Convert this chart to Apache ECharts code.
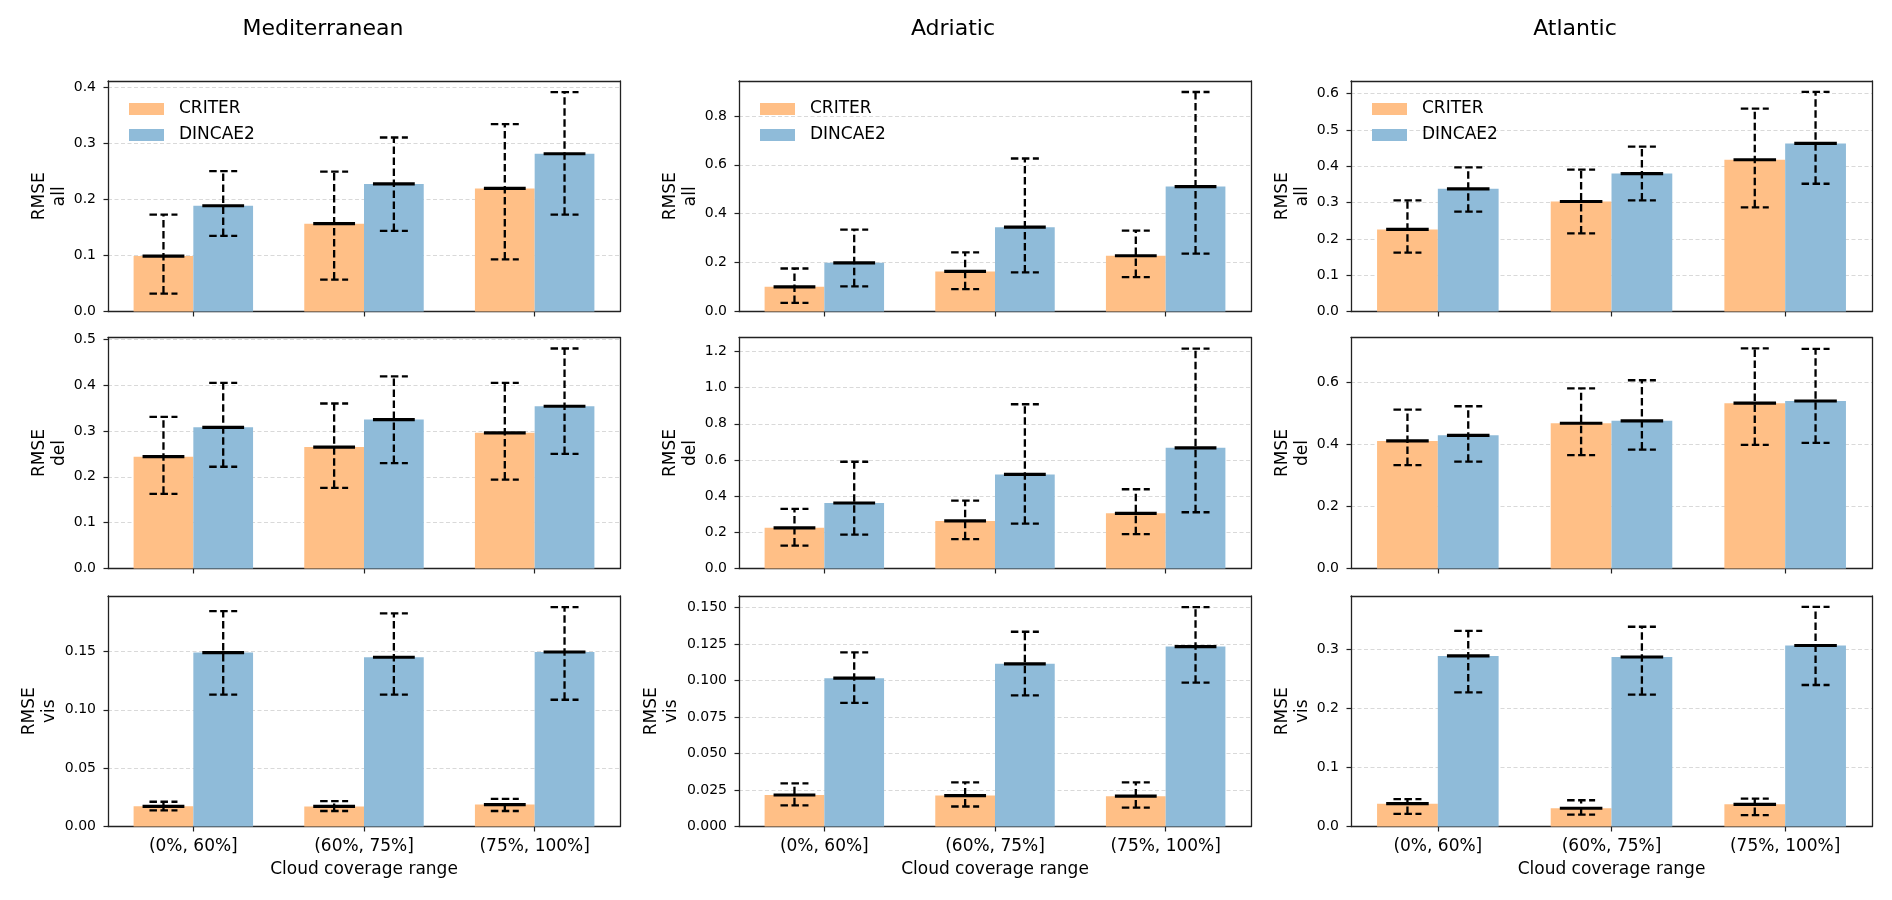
<!DOCTYPE html>
<html>
<head>
<meta charset="utf-8">
<script src="https://cdn.jsdelivr.net/npm/echarts@6/dist/echarts.min.js"></script>
<style>
html,body{margin:0;padding:0;background:#fff;}
#chart{width:1892px;height:900px;}
</style>
</head>
<body>
<div id="chart"></div>
<script>
// ---------------- data ----------------
const categories = ['(0%, 60%]', '(60%, 75%]', '(75%, 100%]'];
const regions = ['Mediterranean', 'Adriatic', 'Atlantic'];
const metrics = ['all', 'del', 'vis'];
const seriesNames = ['CRITER', 'DINCAE2'];

// each entry: [low, mean, high] per category
const medAllCRITER  = [[0.032, 0.099, 0.173], [0.057, 0.157, 0.250], [0.093, 0.220, 0.335]];
const medAllDINCAE2 = [[0.135, 0.189, 0.251], [0.144, 0.228, 0.311], [0.173, 0.282, 0.392]];
const medDelCRITER  = [[0.163, 0.244, 0.331], [0.176, 0.265, 0.360], [0.194, 0.296, 0.405]];
const medDelDINCAE2 = [[0.222, 0.308, 0.405], [0.230, 0.325, 0.419], [0.250, 0.354, 0.480]];
const medVisCRITER  = [[0.0138, 0.0173, 0.0212], [0.0133, 0.0172, 0.0217], [0.0133, 0.0188, 0.0237]];
const medVisDINCAE2 = [[0.113, 0.149, 0.1846], [0.113, 0.145, 0.1826], [0.1086, 0.1495, 0.188]];

const adrAllCRITER  = [[0.035, 0.101, 0.176], [0.0915, 0.164, 0.242], [0.141, 0.228, 0.331]];
const adrAllDINCAE2 = [[0.103, 0.199, 0.335], [0.160, 0.345, 0.626], [0.237, 0.511, 0.898]];
const adrDelCRITER  = [[0.127, 0.225, 0.330], [0.162, 0.263, 0.375], [0.190, 0.305, 0.438]];
const adrDelDINCAE2 = [[0.187, 0.362, 0.590], [0.248, 0.520, 0.908], [0.311, 0.667, 1.216]];
const adrVisCRITER  = [[0.0145, 0.0216, 0.0295], [0.0137, 0.0212, 0.0302], [0.0130, 0.0208, 0.0302]];
const adrVisDINCAE2 = [[0.0848, 0.1017, 0.1194], [0.0899, 0.1115, 0.1335], [0.0986, 0.1233, 0.1504]];

const atlAllCRITER  = [[0.162, 0.226, 0.306], [0.215, 0.303, 0.391], [0.287, 0.418, 0.559]];
const atlAllDINCAE2 = [[0.275, 0.338, 0.397], [0.306, 0.380, 0.454], [0.352, 0.463, 0.605]];
const atlDelCRITER  = [[0.334, 0.412, 0.513], [0.366, 0.469, 0.582], [0.399, 0.534, 0.711]];
const atlDelDINCAE2 = [[0.345, 0.430, 0.524], [0.384, 0.477, 0.608], [0.406, 0.541, 0.709]];
const atlVisCRITER  = [[0.0213, 0.0387, 0.0465], [0.0203, 0.0310, 0.0445], [0.0194, 0.0377, 0.0474]];
const atlVisDINCAE2 = [[0.2275, 0.2894, 0.332], [0.2236, 0.2875, 0.3388], [0.240, 0.307, 0.3727]];

// y tick labels per panel
const medAllTicks = ['0.0', '0.1', '0.2', '0.3', '0.4'];
const medDelTicks = ['0.0', '0.1', '0.2', '0.3', '0.4', '0.5'];
const medVisTicks = ['0.00', '0.05', '0.10', '0.15'];
const adrAllTicks = ['0.0', '0.2', '0.4', '0.6', '0.8'];
const adrDelTicks = ['0.0', '0.2', '0.4', '0.6', '0.8', '1.0', '1.2'];
const adrVisTicks = ['0.000', '0.025', '0.050', '0.075', '0.100', '0.125', '0.150'];
const atlAllTicks = ['0.0', '0.1', '0.2', '0.3', '0.4', '0.5', '0.6'];
const atlDelTicks = ['0.0', '0.2', '0.4', '0.6'];
const atlVisTicks = ['0.0', '0.1', '0.2', '0.3'];

// y axis upper limits
const medYMax = [0.412, 0.504, 0.1975];
const adrYMax = [0.943, 1.277, 0.158];
const atlYMax = [0.635, 0.746, 0.391];

// ---------------- assembly ----------------
const panelData = [
  [[medAllCRITER, medAllDINCAE2], [medDelCRITER, medDelDINCAE2], [medVisCRITER, medVisDINCAE2]],
  [[adrAllCRITER, adrAllDINCAE2], [adrDelCRITER, adrDelDINCAE2], [adrVisCRITER, adrVisDINCAE2]],
  [[atlAllCRITER, atlAllDINCAE2], [atlDelCRITER, atlDelDINCAE2], [atlVisCRITER, atlVisDINCAE2]]
];
const panelTicks = [
  [medAllTicks, medDelTicks, medVisTicks],
  [adrAllTicks, adrDelTicks, adrVisTicks],
  [atlAllTicks, atlDelTicks, atlVisTicks]
];
const panelMax = [medYMax, adrYMax, atlYMax];

// layout (style)
const colLeft = [108, 739, 1351];
const colWidth = [512, 512, 521];
const rowTop = [81, 337.5, 596];
const rowHeight = [230.5, 231, 230.5];
const titleX = [318, 948, 1570];
const FONT = 'DejaVu Sans';
const colors = ['#FFBF86', '#8FBBD9'];
const frameColor = '#222';

const grids = [], xAxes = [], yAxes = [], series = [], legends = [], titles = [];
const frameX = [], frameY = [];

function errRender(side) {
  return function (params, api) {
    const ci = api.value(0);
    const lo = api.value(1), mu = api.value(2), hi = api.value(3);
    const band = api.size([1, 0])[0];
    const bw = band * 0.35;
    const pL = api.coord([ci, lo]);
    const pM = api.coord([ci, mu]);
    const pH = api.coord([ci, hi]);
    const cx = pL[0] + side * bw / 2;
    const capHalf = 14;
    const meanHalf = bw * 0.35;
    const dash = { stroke: '#000', lineWidth: 2.3, lineDash: [7.5, 3.5], fill: null };
    return {
      type: 'group',
      children: [
        { type: 'line', shape: { x1: cx, y1: pL[1], x2: cx, y2: pH[1] }, style: dash },
        { type: 'line', shape: { x1: cx - capHalf, y1: pL[1], x2: cx + capHalf, y2: pL[1] }, style: dash },
        { type: 'line', shape: { x1: cx - capHalf, y1: pH[1], x2: cx + capHalf, y2: pH[1] }, style: dash },
        { type: 'line', shape: { x1: cx - meanHalf, y1: pM[1], x2: cx + meanHalf, y2: pM[1] }, style: { stroke: '#000', lineWidth: 3.2 } }
      ]
    };
  };
}

for (let c = 0; c < 3; c++) {
  titles.push({
    text: regions[c], left: titleX[c], top: 13, textAlign: 'center',
    textStyle: { fontFamily: FONT, fontSize: 22, fontWeight: 'normal', color: '#000' }
  });
  for (let r = 0; r < 3; r++) {
    const g = grids.length;
    grids.push({ left: colLeft[c], top: rowTop[r], width: colWidth[c], height: rowHeight[r], show: false });
    const ticks = panelTicks[c][r];
    const tickVals = ticks.map(Number);
    const interval = tickVals[1] - tickVals[0];
    const labelText = ticks.map(t => t);
    const lastRow = r === 2;
    const labW = ticks[ticks.length - 1].length;
    const nameGap = labW <= 3 ? 38 : (labW === 4 ? 48 : 57);

    xAxes.push({
      type: 'category', gridIndex: g, data: categories, boundaryGap: true,
      axisLine: { show: true, lineStyle: { color: frameColor, width: 1.3 } },
      axisTick: { show: true, alignWithLabel: true, length: 5, lineStyle: { color: frameColor, width: 1.2 } },
      axisLabel: { show: lastRow, fontFamily: FONT, fontSize: 17, color: '#000', margin: 12 },
      splitLine: { show: false },
      name: lastRow ? 'Cloud coverage range' : '',
      nameLocation: 'middle', nameGap: 35,
      nameTextStyle: { fontFamily: FONT, fontSize: 17, color: '#000' }
    });
    yAxes.push({
      type: 'value', gridIndex: g, min: 0, max: panelMax[c][r], interval: interval,
      axisLine: { show: true, lineStyle: { color: frameColor, width: 1.3 } },
      axisTick: { show: true, length: 4.5, inside: false, customValues: tickVals, lineStyle: { color: frameColor, width: 1.2 } },
      axisLabel: {
        fontFamily: FONT, fontSize: 14, color: '#000', margin: 12, customValues: tickVals,
        formatter: function (v) {
          for (let i = 0; i < tickVals.length; i++) {
            if (Math.abs(v - tickVals[i]) < interval * 1e-3) return labelText[i];
          }
          return '';
        }
      },
      splitLine: { show: true, lineStyle: { color: '#d9d9d9', width: 1, type: [4, 2.5] } },
      name: 'RMSE\n' + metrics[r], nameLocation: 'middle', nameRotate: 90, nameGap: nameGap,
      nameTextStyle: { fontFamily: FONT, fontSize: 17, color: '#000', lineHeight: 20 }
    });
    frameX.push({
      type: 'value', gridIndex: g, position: 'top', min: 0, max: 1,
      axisLine: { show: true, onZero: false, lineStyle: { color: frameColor, width: 1.3 } },
      axisTick: { show: false }, axisLabel: { show: false }, splitLine: { show: false }
    });
    frameY.push({
      type: 'value', gridIndex: g, position: 'right', min: 0, max: 1,
      axisLine: { show: true, onZero: false, lineStyle: { color: frameColor, width: 1.3 } },
      axisTick: { show: false }, axisLabel: { show: false }, splitLine: { show: false }
    });

    const pair = panelData[c][r];
    for (let s = 0; s < 2; s++) {
      series.push({
        name: seriesNames[s], type: 'bar', xAxisIndex: g, yAxisIndex: g,
        data: pair[s].map(d => d[1]),
        barWidth: '35%', barGap: '0%',
        itemStyle: { color: colors[s] },
        silent: true, z: 2
      });
    }
    for (let s = 0; s < 2; s++) {
      series.push({
        name: seriesNames[s] + ' err', type: 'custom', xAxisIndex: g, yAxisIndex: g,
        data: pair[s].map((d, i) => [i, d[0], d[1], d[2]]),
        encode: { x: 0, y: [1, 2, 3] },
        renderItem: errRender(s === 0 ? -1 : 1),
        silent: true, clip: false, z: 5
      });
    }
    if (r === 0) {
      legends.push({
        data: seriesNames, orient: 'vertical', left: colLeft[c] + 16, top: 94,
        icon: 'rect', itemWidth: 35, itemHeight: 12, itemGap: 6,
        selectedMode: false,
        textStyle: { fontFamily: FONT, fontSize: 17, color: '#000', lineHeight: 20, padding: [0, 0, 0, 10] }
      });
    }
  }
}

const chart = echarts.init(document.getElementById('chart'), null, { renderer: 'canvas' });
chart.setOption({
  animation: false,
  backgroundColor: '#fff',
  textStyle: { fontFamily: FONT },
  title: titles,
  legend: legends,
  grid: grids,
  xAxis: xAxes.concat(frameX),
  yAxis: yAxes.concat(frameY),
  series: series
});
</script>
</body>
</html>
